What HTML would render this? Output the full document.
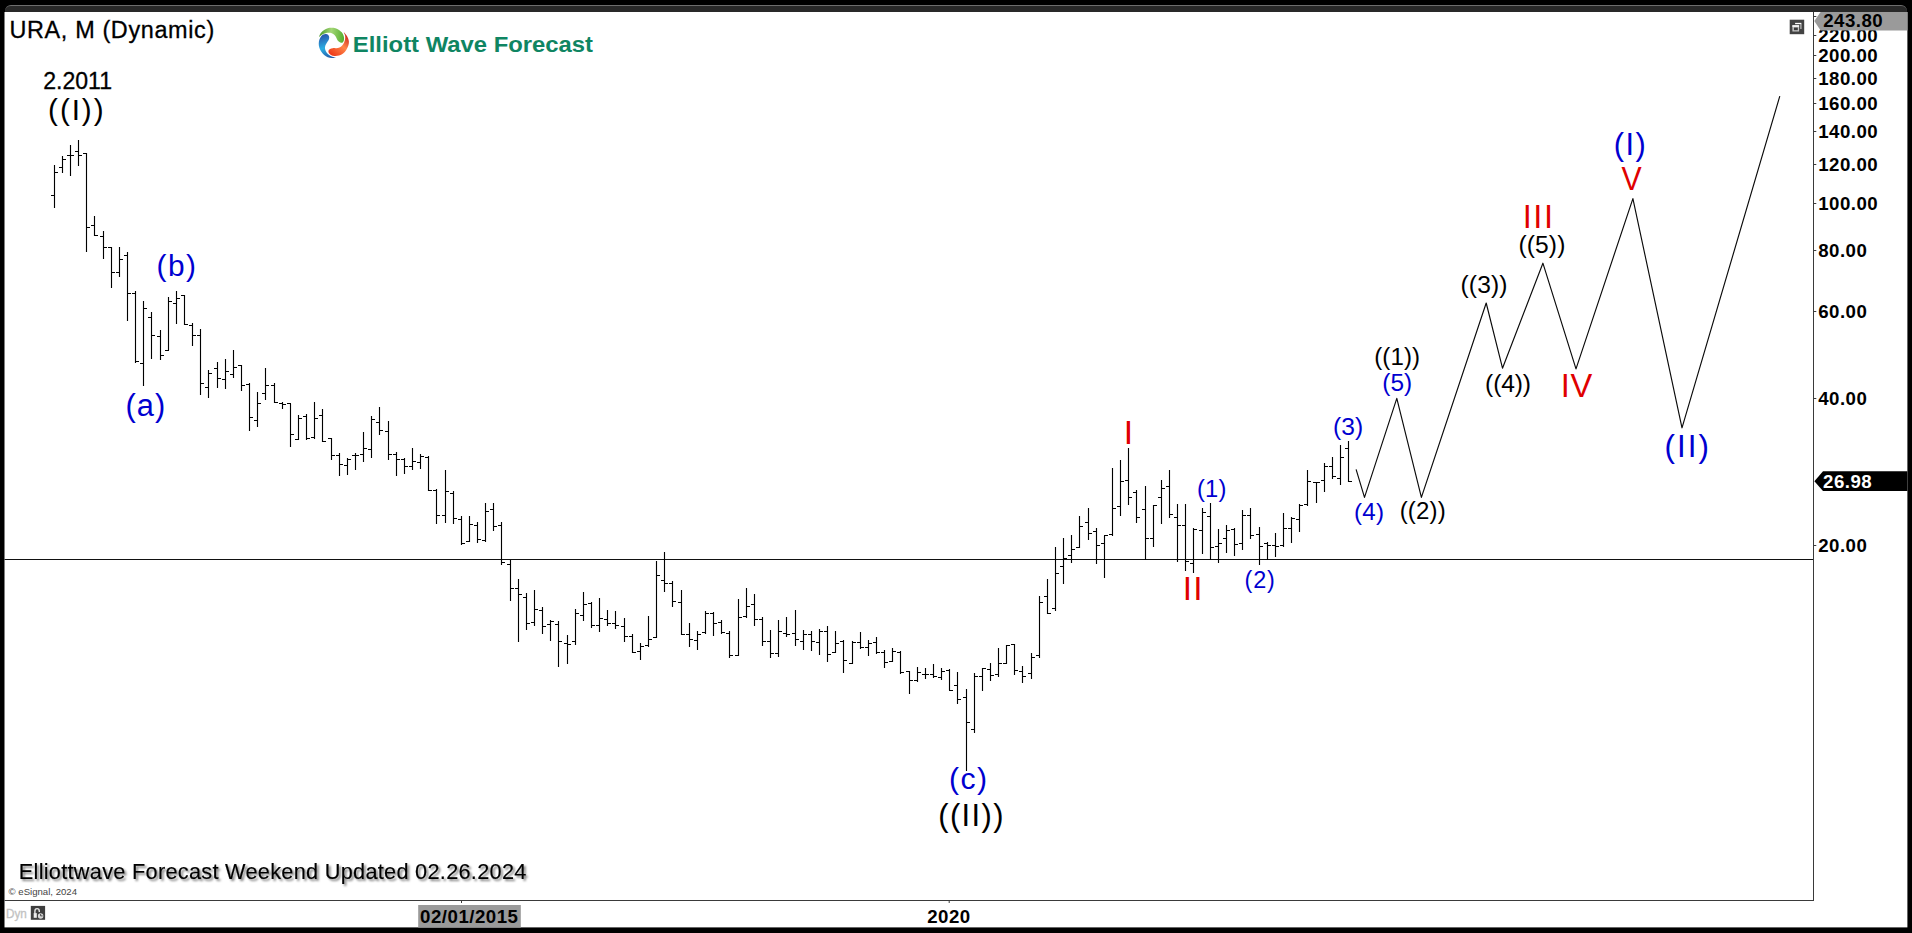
<!DOCTYPE html>
<html><head><meta charset="utf-8"><title>URA, M (Dynamic)</title>
<style>
html,body{margin:0;padding:0;background:#000;}
body{width:1912px;height:933px;position:relative;overflow:hidden;font-family:"Liberation Sans",Arial,sans-serif;}
#tb{position:absolute;left:4.5px;top:5px;width:1902.9px;height:10px;background:#292929;border-top:1px solid #6e6e6e;border-radius:6px 6px 0 0;box-sizing:border-box}
svg{position:absolute;left:0;top:0}
text{font-family:"Liberation Sans",Arial,sans-serif;fill:#000}
.ln{stroke:#111;stroke-width:1.2}
.bar{stroke:#000;stroke-width:1.12;fill:none}
.fc{stroke:#0a0a0a;stroke-width:1.15;fill:none;stroke-linejoin:round}
.ax{stroke:#3a3a3a;stroke-width:1}
.pl{font-size:18.67px;font-weight:bold;letter-spacing:0.5px}
.g{fill:#0f8562} .dy{fill:#c2c2c2;stroke:#c2c2c2;stroke-width:.3px} .k{fill:#000} .b{fill:#0000d0} .r{fill:#e00000}
.hv{stroke:#000;stroke-width:.3px}
.sh{filter:drop-shadow(2.3px 2.3px 1.1px rgba(0,0,0,.5))}
.sh.hv{stroke-width:.15px}
</style></head><body>
<div id="tb"></div>
<svg width="1912" height="933" viewBox="0 0 1912 933">
<rect x="4.5" y="12" width="1902.9" height="915.4" fill="#fff"/>
<line x1="4.5" y1="559.5" x2="1813.5" y2="559.5" class="ln"/>
<path class="bar" d="M54.5 165V208M51 195.5H55M54 172.5H58M62.5 156V173M59 167.5H63M62 159.5H66M70.5 145V176M67 155.5H71M70 155.5H74M78.5 140V166M75 151.5H79M78 155.5H82M86.5 153V252M83 153.5H87M86 227.5H90M94.5 216V236M91 225.5H95M94 235.5H98M103.5 231V259M100 236.5H104M103 247.5H107M111.5 247V288M108 247.5H112M111 272.5H115M119.5 247V277M116 272.5H120M119 259.5H123M127.5 252V321M124 255.5H128M127 293.5H131M135.5 291V363M132 293.5H136M135 361.5H139M143.5 301V386M140 363.5H144M143 308.5H147M151.5 312V359M148 317.5H152M151 335.5H155M160.5 330V360M157 336.5H161M160 355.5H164M168.5 297V350M165 350.5H169M168 301.5H172M176.5 291V324M173 303.5H177M176 298.5H180M184.5 295V325M181 295.5H185M184 324.5H188M192.5 323V346M189 325.5H193M192 335.5H196M200.5 329V395M197 335.5H201M200 383.5H204M208.5 370V398M205 387.5H209M208 373.5H212M217.5 362V388M214 368.5H218M217 378.5H221M225.5 359V389M222 379.5H226M225 371.5H229M233.5 350V378M230 374.5H234M233 367.5H237M241.5 365V391M238 365.5H242M241 385.5H245M249.5 383V431M246 384.5H250M249 417.5H253M257.5 392V427M254 420.5H258M257 403.5H261M265.5 368V400M262 393.5H266M265 385.5H269M274.5 383V403M271 385.5H275M274 402.5H278M282.5 402V409M279 403.5H283M282 404.5H286M290.5 404V447M287 403.5H291M290 434.5H294M298.5 415V440M295 439.5H299M298 418.5H302M306.5 414V440M303 416.5H307M306 438.5H310M314.5 402V439M311 437.5H315M314 418.5H318M322.5 409V442M319 415.5H323M322 441.5H326M331.5 438V460M328 438.5H332M331 455.5H335M339.5 453V476M336 455.5H340M339 464.5H343M347.5 458V475M344 465.5H348M347 459.5H351M355.5 453V470M352 455.5H356M355 455.5H359M363.5 432V462M360 454.5H364M363 448.5H367M371.5 416V458M368 449.5H372M371 419.5H375M379.5 407V435M376 422.5H380M379 430.5H383M388.5 421V460M385 431.5H389M388 454.5H392M396.5 452V476M393 454.5H397M396 459.5H400M404.5 458V474M401 459.5H405M404 466.5H408M412.5 448V470M409 466.5H413M412 461.5H416M420.5 454V469M417 462.5H421M420 456.5H424M428.5 456V491M425 457.5H429M428 490.5H432M436.5 489V524M433 490.5H437M436 515.5H440M445.5 470V523M442 515.5H446M445 491.5H449M453.5 491V524M450 493.5H454M453 518.5H457M461.5 516V545M458 519.5H462M461 543.5H465M469.5 516V542M466 541.5H470M469 524.5H473M477.5 522V543M474 525.5H478M477 539.5H481M485.5 503V542M482 540.5H486M485 511.5H489M493.5 503V531M490 509.5H494M493 526.5H497M501.5 522V565M498 525.5H502M501 562.5H505M510.5 560V601M507 564.5H511M510 588.5H514M518.5 579V642M515 588.5H519M518 594.5H522M526.5 593V630M523 597.5H527M526 623.5H530M534.5 590V626M531 622.5H535M534 609.5H538M542.5 607V634M539 610.5H543M542 626.5H546M550.5 620V641M547 624.5H551M550 621.5H554M558.5 621V667M555 624.5H559M558 641.5H562M567.5 635V664M564 643.5H568M567 644.5H571M575.5 609V645M572 641.5H576M575 613.5H579M583.5 592V621M580 615.5H584M583 604.5H587M591.5 602V628M588 603.5H592M591 625.5H595M599.5 598V632M596 625.5H600M599 618.5H603M607.5 610V626M604 619.5H608M607 623.5H611M615.5 611V629M612 623.5H616M615 625.5H619M624.5 618V642M621 626.5H625M624 636.5H628M632.5 634V653M629 636.5H633M632 652.5H636M640.5 643V660M637 651.5H641M640 646.5H644M648.5 616V647M645 645.5H649M648 639.5H652M656.5 561V638M653 637.5H657M656 575.5H660M664.5 552V592M661 580.5H665M664 583.5H668M672.5 581V607M669 583.5H673M672 601.5H676M681.5 590V635M678 602.5H682M681 634.5H685M689.5 623V647M686 634.5H690M689 639.5H693M697.5 631V650M694 640.5H698M697 634.5H701M705.5 611V634M702 632.5H706M705 613.5H709M713.5 612V636M710 613.5H714M713 623.5H717M721.5 620V634M718 622.5H722M721 632.5H725M729.5 631V658M726 633.5H730M729 655.5H733M738.5 599V656M735 655.5H739M738 617.5H742M746.5 588V618M743 616.5H747M746 606.5H750M754.5 594V626M751 604.5H755M754 619.5H758M762.5 617V646M759 619.5H763M762 641.5H766M770.5 630V658M767 641.5H771M770 653.5H774M778.5 620V657M775 653.5H779M778 631.5H782M786.5 617V637M783 633.5H787M786 634.5H790M795.5 610V646M792 633.5H796M795 639.5H799M803.5 630V650M800 641.5H804M803 634.5H807M811.5 631V651M808 634.5H812M811 641.5H815M819.5 629V655M816 642.5H820M819 631.5H823M827.5 626V662M824 631.5H828M827 654.5H831M835.5 631V653M832 652.5H836M835 643.5H839M843.5 640V673M840 641.5H844M843 660.5H847M852.5 641V664M849 663.5H853M852 642.5H856M860.5 632V649M857 642.5H861M860 647.5H864M868.5 640V656M865 647.5H869M868 643.5H872M876.5 637V654M873 642.5H877M876 652.5H880M884.5 650V668M881 652.5H885M884 662.5H888M892.5 648V662M889 661.5H893M892 651.5H896M900.5 651V674M897 652.5H901M900 672.5H904M909.5 671V694M906 671.5H910M909 680.5H913M917.5 667V682M914 680.5H918M917 672.5H921M925.5 668V679M922 674.5H926M925 674.5H929M933.5 664V678M930 674.5H934M933 676.5H937M941.5 668V680M938 677.5H942M941 671.5H945M949.5 669V690M946 670.5H950M949 690.5H953M957.5 672V704M954 685.5H958M957 699.5H961M966.5 689V771M963 697.5H967M966 722.5H970M974.5 673V733M971 729.5H975M974 676.5H978M982.5 668V691M979 676.5H983M982 668.5H986M990.5 663V681M987 669.5H991M990 675.5H994M998.5 648V677M995 674.5H999M998 663.5H1002M1006.5 645V664M1003 663.5H1007M1006 645.5H1010M1014.5 644V675M1011 644.5H1015M1014 670.5H1018M1022.5 666V683M1019 671.5H1023M1022 676.5H1026M1031.5 653V679M1028 673.5H1032M1031 657.5H1035M1039.5 596V658M1036 655.5H1040M1039 602.5H1043M1047.5 579V614M1044 596.5H1048M1047 613.5H1051M1055.5 547V611M1052 608.5H1056M1055 573.5H1059M1063.5 538V584M1060 566.5H1064M1063 558.5H1067M1071.5 535V563M1068 555.5H1072M1071 549.5H1075M1079.5 516V548M1076 547.5H1080M1079 526.5H1083M1088.5 508V540M1085 522.5H1089M1088 533.5H1092M1096.5 528V564M1093 531.5H1097M1096 545.5H1100M1104.5 536V578M1101 543.5H1105M1104 535.5H1108M1112.5 468V536M1109 534.5H1113M1112 508.5H1116M1120.5 460V516M1117 506.5H1121M1120 481.5H1124M1128.5 448V505M1125 480.5H1129M1128 497.5H1132M1136.5 490V523M1133 492.5H1137M1136 517.5H1140M1145.5 486V560M1142 509.5H1146M1145 538.5H1149M1153.5 505V547M1150 538.5H1154M1153 505.5H1157M1161.5 480V524M1158 497.5H1162M1161 488.5H1165M1169.5 470V518M1166 486.5H1170M1169 514.5H1173M1177.5 504V562M1174 517.5H1178M1177 525.5H1181M1185.5 504V571M1182 525.5H1186M1185 561.5H1189M1193.5 528V573M1190 563.5H1194M1193 529.5H1197M1202.5 508V554M1199 530.5H1203M1202 512.5H1206M1210.5 503V560M1207 516.5H1211M1210 547.5H1214M1218.5 529V563M1215 546.5H1219M1218 543.5H1222M1226.5 525V553M1223 538.5H1227M1226 530.5H1230M1234.5 528V556M1231 529.5H1235M1234 544.5H1238M1242.5 510V550M1239 543.5H1243M1242 515.5H1246M1250.5 508V539M1247 515.5H1251M1250 535.5H1254M1259.5 527V565M1256 534.5H1260M1259 546.5H1263M1267.5 542V560M1264 543.5H1268M1267 545.5H1271M1275.5 533V557M1272 545.5H1276M1275 546.5H1279M1283.5 513V547M1280 545.5H1284M1283 528.5H1287M1291.5 517V543M1288 528.5H1292M1291 518.5H1295M1299.5 504V532M1296 519.5H1300M1299 505.5H1303M1307.5 470V506M1304 504.5H1308M1307 481.5H1311M1316.5 482V503M1313 482.5H1317M1316 482.5H1320M1324.5 463V492M1321 480.5H1325M1324 466.5H1328M1332.5 457V479M1329 466.5H1333M1332 476.5H1336M1340.5 445V485M1337 478.5H1341M1340 457.5H1344M1348.5 441V482M1345 448.5H1349M1348 481.5H1352"/>
<polyline class="fc" points="1356.1,469.3 1364.5,497.4 1396.8,398.4 1421.4,497.4 1486.2,303 1502.5,368.2 1542.9,263.2 1576.0,368.9 1632.9,198.6 1682,427.8 1779.8,96.2"/>
<line x1="4.5" y1="900.5" x2="1814" y2="900.5" class="ax"/>
<line x1="1813.5" y1="12" x2="1813.5" y2="901" class="ax"/>
<line x1="1813.5" y1="35.5" x2="1816.3" y2="35.5" class="ax"/>
<text class="pl" x="1818.2" y="41.8">220.00</text>
<line x1="1813.5" y1="55.5" x2="1816.3" y2="55.5" class="ax"/>
<text class="pl" x="1818.2" y="61.8">200.00</text>
<line x1="1813.5" y1="78.5" x2="1816.3" y2="78.5" class="ax"/>
<text class="pl" x="1818.2" y="84.8">180.00</text>
<line x1="1813.5" y1="103.5" x2="1816.3" y2="103.5" class="ax"/>
<text class="pl" x="1818.2" y="109.8">160.00</text>
<line x1="1813.5" y1="131.5" x2="1816.3" y2="131.5" class="ax"/>
<text class="pl" x="1818.2" y="137.8">140.00</text>
<line x1="1813.5" y1="164.5" x2="1816.3" y2="164.5" class="ax"/>
<text class="pl" x="1818.2" y="170.8">120.00</text>
<line x1="1813.5" y1="203.5" x2="1816.3" y2="203.5" class="ax"/>
<text class="pl" x="1818.2" y="209.8">100.00</text>
<line x1="1813.5" y1="250.5" x2="1816.3" y2="250.5" class="ax"/>
<text class="pl" x="1818.2" y="256.8">80.00</text>
<line x1="1813.5" y1="311.5" x2="1816.3" y2="311.5" class="ax"/>
<text class="pl" x="1818.2" y="317.8">60.00</text>
<line x1="1813.5" y1="398.5" x2="1816.3" y2="398.5" class="ax"/>
<text class="pl" x="1818.2" y="404.8">40.00</text>
<line x1="1813.5" y1="545.5" x2="1816.3" y2="545.5" class="ax"/>
<text class="pl" x="1818.2" y="551.8">20.00</text>
<line x1="1813.5" y1="16.5" x2="1816.3" y2="16.5" class="ax"/>
<path d="M1814.3 20.9L1820.6 12H1907.4V30.6H1820.6Z" fill="#9a9a9a"/>
<text class="pl" x="1823.2" y="27.2">243.80</text>
<path d="M1814.4 481.2L1823 471.2H1907.4V491H1823Z" fill="#000"/>
<text class="pl" x="1823" y="487.6" fill="#fff" style="fill:#fff">26.98</text>
<line x1="461.5" y1="900.5" x2="461.5" y2="903" class="ax"/>
<line x1="949.2" y1="900.5" x2="949.2" y2="903" class="ax"/>
<rect x="418.2" y="905" width="102.6" height="22.6" fill="#9a9a9a"/>
<text class="pl" x="469.3" y="922.6" text-anchor="middle">02/01/2015</text>
<text class="pl" x="948.9" y="922.6" text-anchor="middle">2020</text>
<text class="k" x="48.12" y="120.18" font-size="29.63" letter-spacing="1.93">((I))</text>
<text class="k hv" x="43.25" y="88.57" font-size="23.10" letter-spacing="-0.03">2.2011</text>
<text class="b" x="156.51" y="275.53" font-size="29.84" letter-spacing="1.49">(b)</text>
<text class="b" x="125.45" y="415.53" font-size="30.80" letter-spacing="1.11">(a)</text>
<text class="b" x="948.89" y="789.37" font-size="30.16" letter-spacing="1.54">(c)</text>
<text class="k" x="938.25" y="826.33" font-size="30.80" letter-spacing="1.41">((II))</text>
<text class="r" transform="translate(1123.77 443.70) scale(1.0284 1)" font-size="32.75">I</text>
<text class="r" x="1182.70" y="599.80" font-size="33.33" letter-spacing="1.30">II</text>
<text class="b" x="1196.88" y="497.01" font-size="23.74" letter-spacing="0.29">(1)</text>
<text class="b" x="1244.59" y="587.78" font-size="23.42" letter-spacing="0.77">(2)</text>
<text class="b" x="1333.12" y="434.53" font-size="24.60" letter-spacing="0.02">(3)</text>
<text class="b" x="1353.95" y="520.42" font-size="24.17" letter-spacing="0.31">(4)</text>
<text class="b" x="1382.24" y="390.88" font-size="24.39" letter-spacing="0.09">(5)</text>
<text class="k" x="1374.16" y="365.05" font-size="24.06" letter-spacing="0.13">((1))</text>
<text class="k" x="1399.66" y="519.05" font-size="24.06" letter-spacing="0.18">((2))</text>
<text class="k" x="1460.62" y="292.73" font-size="24.60" letter-spacing="0.07">((3))</text>
<text class="k" x="1485.12" y="391.73" font-size="24.60" letter-spacing="-0.15">((4))</text>
<text class="k" x="1518.42" y="253.33" font-size="24.60" letter-spacing="0.12">((5))</text>
<text class="r" x="1522.67" y="227.60" font-size="32.61" letter-spacing="1.55">III</text>
<text class="r" x="1560.67" y="396.90" font-size="32.61" letter-spacing="0.88">IV</text>
<text class="r" transform="translate(1621.55 190.30) scale(0.9353 1)" font-size="32.32">V</text>
<text class="b" x="1613.75" y="154.73" font-size="30.80" letter-spacing="1.47">(I)</text>
<text class="b" x="1664.62" y="457.42" font-size="31.34" letter-spacing="2.04">(II)</text>
<text class="k hv" x="9.54" y="37.88" font-size="23.42" letter-spacing="0.64">URA, M (Dynamic)</text>
<text class="k sh hv" x="18.76" y="878.50" font-size="21.71" letter-spacing="0.29">Elliottwave Forecast Weekend Updated 02.26.2024</text>
<text x="8.6" y="894.8" style="font-size:9.6px;fill:#444">© eSignal, 2024</text>
<rect x="30.8" y="905.9" width="14.3" height="13.9" fill="#3e3e3e"/>
<path d="M34.9 913.6V911.2A2.2 2.6 0 0 1 39.3 911.2V912" fill="none" stroke="#e4e4e4" stroke-width="1.4"/>
<rect x="33.7" y="913.1" width="3.1" height="4.7" fill="#ececec"/>
<circle cx="40.6" cy="915.9" r="2.75" fill="#d8d8d8"/>
<path d="M40.6 914V915.9H42.6" fill="none" stroke="#3e3e3e" stroke-width="0.9"/>
<rect x="1789.7" y="19.7" width="14.5" height="14.5" fill="#434343"/>
<path d="M1795.1 23.5H1801.4" fill="none" stroke="#fff" stroke-width="1.3"/>
<path d="M1800.9 24V28.9" fill="none" stroke="#a8a8a8" stroke-width="1.5"/>
<rect x="1792.4" y="25.2" width="6.7" height="6.3" fill="#c4c4c4"/>
<rect x="1792.4" y="25.2" width="6.7" height="1.7" fill="#f6f6f6"/>
<rect x="1793.9" y="27.5" width="3.9" height="2.7" fill="#3a3a3a"/>
<g id="logo"><defs><linearGradient id="gg" gradientUnits="userSpaceOnUse" x1="160" y1="330" x2="700" y2="400"><stop offset="0" stop-color="#4a9a2a"/><stop offset="0.45" stop-color="#a4d676"/><stop offset="1" stop-color="#55ae2e"/></linearGradient><linearGradient id="gr" gradientUnits="userSpaceOnUse" x1="400" y1="700" x2="780" y2="250"><stop offset="0" stop-color="#ee3a1a"/><stop offset="0.52" stop-color="#ff8648"/><stop offset="1" stop-color="#c41c18"/></linearGradient><linearGradient id="gb" gradientUnits="userSpaceOnUse" x1="330" y1="280" x2="480" y2="800"><stop offset="0" stop-color="#2c5cb0"/><stop offset="0.5" stop-color="#2caee2"/><stop offset="1" stop-color="#2254a4"/></linearGradient><filter id="lb" x="-20%" y="-20%" width="140%" height="140%"><feGaussianBlur stdDeviation="9"/></filter></defs><g transform="translate(312 22) scale(0.045045)" filter="url(#lb)"><path d="M160 330C155 323 182 266 200 240C218 214 245 192 270 175C295 158 323 148 350 140C377 132 402 130 430 130C458 130 492 132 520 140C548 148 577 160 600 175C623 190 643 209 660 230C677 251 691 277 700 300C709 323 712 348 712 370C712 392 707 415 700 430C693 445 683 459 670 462C657 465 637 459 620 450C603 441 583 427 570 410C557 393 552 370 540 350C528 330 517 307 500 290C483 273 462 258 440 250C418 242 393 240 370 240C347 240 323 243 300 250C277 257 253 267 230 280C207 293 165 337 160 330Z" fill="url(#gg)"/><path d="M705 230C709 228 744 268 760 290C776 312 790 335 800 360C810 385 819 412 820 440C821 468 815 500 805 530C795 560 779 592 760 620C741 648 717 679 690 700C663 721 632 736 600 745C568 754 530 758 500 755C470 752 441 741 420 730C399 719 384 705 375 690C366 675 361 655 365 640C369 625 384 610 400 600C416 590 437 583 460 580C483 577 515 582 540 580C565 578 588 575 610 565C632 555 652 539 670 520C688 501 704 473 715 450C726 427 732 405 735 380C738 355 740 325 735 300C730 275 701 232 705 230Z" fill="url(#gr)"/><path d="M530 790C528 795 470 802 440 800C410 798 378 792 350 780C322 768 295 752 270 730C245 708 218 678 200 650C182 622 168 590 160 560C152 530 149 498 150 470C151 442 157 415 165 390C173 365 186 338 200 320C214 302 232 289 250 280C268 271 292 266 310 268C328 270 348 278 360 290C372 302 380 322 382 340C384 358 379 380 370 400C361 420 342 438 330 460C318 482 302 507 295 530C288 553 286 577 290 600C294 623 305 648 320 670C335 692 358 713 380 730C402 747 425 760 450 770C475 780 532 785 530 790Z" fill="url(#gb)"/></g></g>
<text class="dy" transform="translate(5.96 917.70) scale(0.9765 1)" font-size="12.00">Dyn</text>
<text class="g" transform="translate(352.85 51.50) scale(1.1056 1)" font-size="21.57" font-weight="bold">Elliott Wave Forecast</text>
</svg>
</body></html>
